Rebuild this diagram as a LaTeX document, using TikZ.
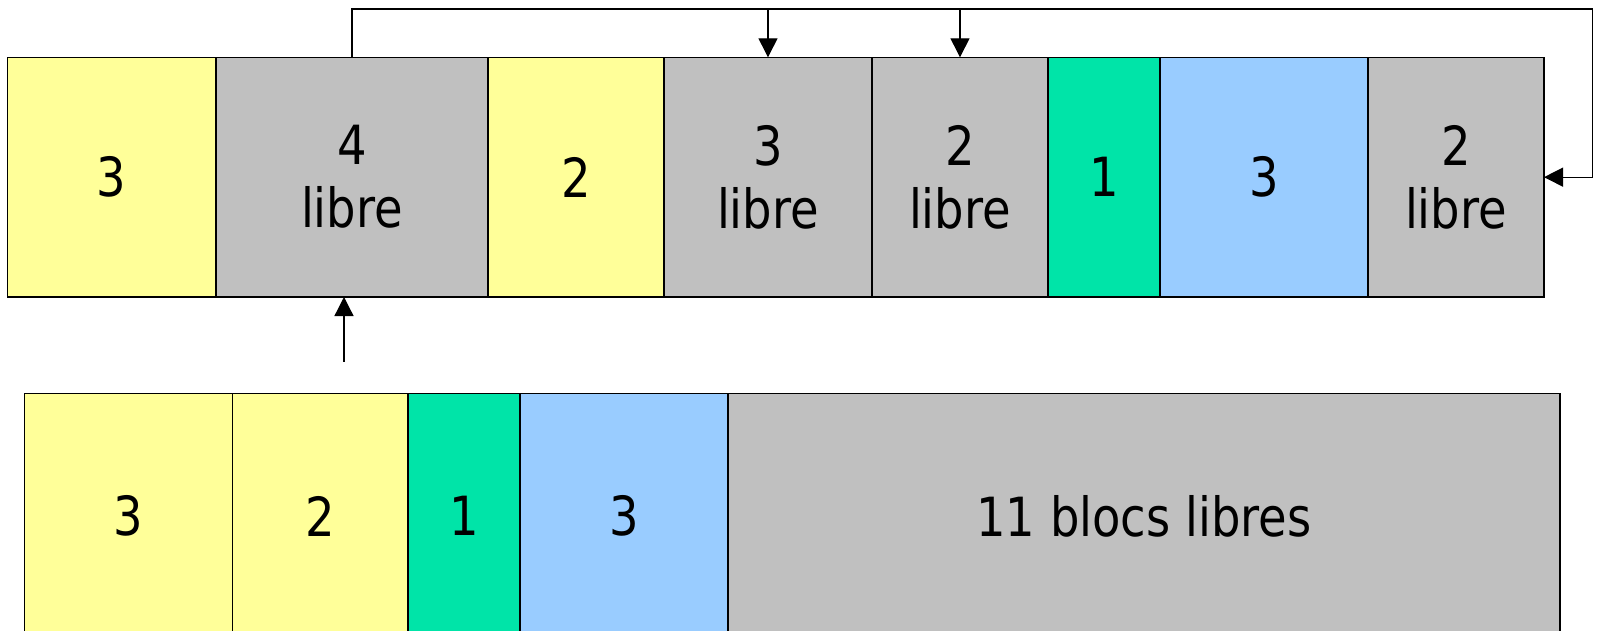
\documentclass[tikz,border=0pt]{standalone}
\usepackage{fontspec}
\setmainfont{DejaVu Sans}[FakeStretch=0.86]
\usetikzlibrary{arrows.meta}
\definecolor{blkyellow}{HTML}{FFFF99}
\definecolor{blkgray}{HTML}{C0C0C0}
\definecolor{blkgreen}{HTML}{00E4A8}
\definecolor{blkblue}{HTML}{99CCFF}
\begin{document}
\begin{tikzpicture}[x=1pt,y=-1pt,
  blk/.style={draw=black, line width=1.4pt, rectangle, inner sep=0pt,
    outer sep=0pt, anchor=north west, align=center,
    font=\fontsize{54}{63}\selectfont},
  toprow/.style={blk, minimum height=239.7pt},
  botrow/.style={blk, minimum height=245pt},
  conn/.style={draw=black, line width=1.3pt, -{Triangle[length=19pt,width=19pt]}}]
\useasboundingbox (0,0) rectangle (1599,630);

% memory before compaction
\node[toprow, fill=blkyellow, minimum width=208.5pt] (t1) at (7.5,57.3) {3};
\node[toprow, fill=blkgray,   minimum width=272pt]   (t2) at (216,57.3) {4\\libre};
\node[toprow, fill=blkyellow, minimum width=176pt]   (t3) at (488,57.3) {2};
\node[toprow, fill=blkgray,   minimum width=208pt]   (t4) at (664,57.3) {3\\libre};
\node[toprow, fill=blkgray,   minimum width=176pt]   (t5) at (872,57.3) {2\\libre};
\node[toprow, fill=blkgreen,  minimum width=112pt]   (t6) at (1048,57.3) {1};
\node[toprow, fill=blkblue,   minimum width=208pt]   (t7) at (1160,57.3) {3};
\node[toprow, fill=blkgray,   minimum width=176pt]   (t8) at (1368,57.3) {2\\libre};

% memory after compaction
\node[botrow, fill=blkyellow, minimum width=208pt]   (b1) at (24.5,393.5) {3};
\node[botrow, fill=blkyellow, minimum width=175.5pt] (b2) at (232.5,393.5) {2};
\node[botrow, fill=blkgreen,  minimum width=112pt]   (b3) at (408,393.5) {1};
\node[botrow, fill=blkblue,   minimum width=208pt]   (b4) at (520,393.5) {3};
\node[botrow, fill=blkgray,   minimum width=832pt]   (b5) at (728,393.5) {11 blocs libres};

% free list links
\coordinate (rail) at (0,9);
\coordinate (railR) at (1592.7,9);
\draw[conn] (t2.north) -- (t2.north |- rail) -- (railR) |- (t8.east);
\draw[conn] (t4.north |- rail) -- (t4.north);
\draw[conn] (t5.north |- rail) -- (t5.north);

% head pointer
\coordinate (head) at (344,361.7);
\draw[conn] (head) -- (head |- t2.south);
\end{tikzpicture}
\end{document}
